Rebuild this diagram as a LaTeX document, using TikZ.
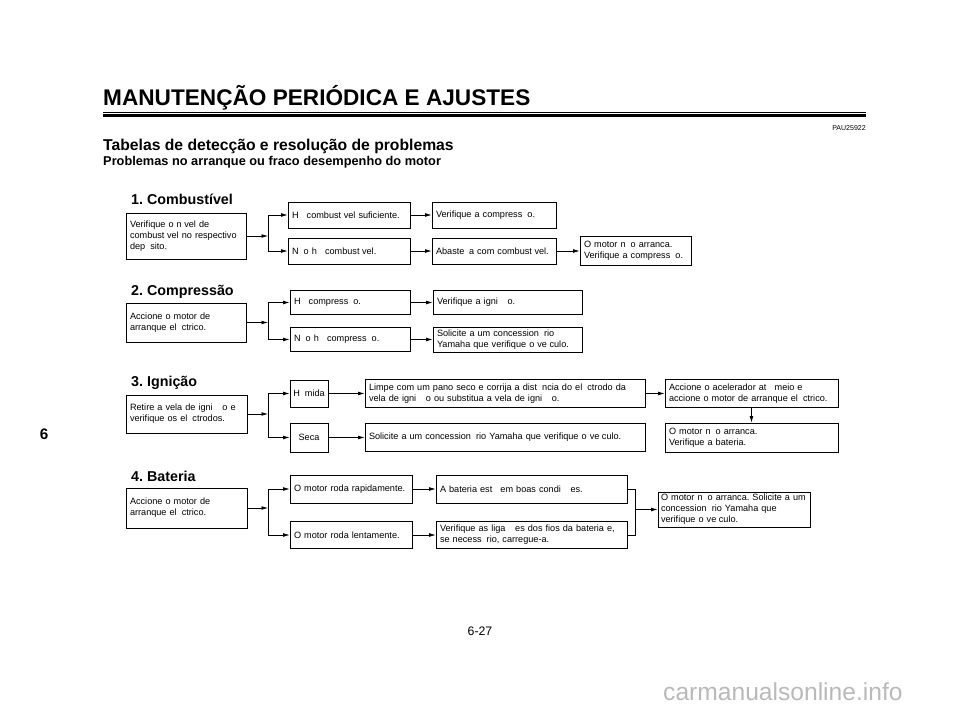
\documentclass[tikz,border=0pt]{standalone}
\usepackage{fontspec}
\setmainfont{Liberation Sans}
\usetikzlibrary{arrows.meta}
\frenchspacing

\newlength\pxu
\setlength\pxu{0.03cm}
% a glyph the page lost: keep its room, print nothing
\newcommand\nochar[1]{\hphantom{#1}}

\begin{document}
\begin{tikzpicture}[
  x=\pxu, y=-\pxu,
  font=\fontsize{7.8}{9.4}\selectfont,
  box/.style 2 args={draw, line width=0.6pt, align=left, inner xsep=4\pxu, inner ysep=1pt,
    text width=#1\pxu-8\pxu, minimum height=#2\pxu},
  tag/.style 2 args={draw, line width=0.6pt, inner sep=1pt, minimum width=#1\pxu, minimum height=#2\pxu},
  head/.style={anchor=base west, inner sep=0pt, font=\fontsize{12.2}{14}\selectfont\bfseries},
  arr/.style={-{Latex[length=5.5pt, width=3.2pt]}, line width=0.6pt},
  link/.style={line width=0.6pt}
]
\useasboundingbox (0,0) rectangle (960,712);

% page head
\node[anchor=base west, inner sep=0pt, font=\fontsize{19.3}{22}\selectfont\bfseries] (title) at (103,106) {MANUTENÇÃO PERIÓDICA E AJUSTES};
\draw[line width=0.6pt] (103,112) -- (866,112);
\draw[line width=2pt] (103,115.5) -- (866,115.5);
\node[anchor=base east, inner sep=0pt, font=\fontsize{6}{7}\selectfont] (code) at (866,131) {PAU25922};
\node[anchor=base west, inner sep=0pt, font=\fontsize{13.4}{16}\selectfont\bfseries] (tab) at (103,151) {Tabelas de detecção e resolução de problemas};
\node[anchor=base west, inner sep=0pt, font=\fontsize{10.9}{12}\selectfont\bfseries] (sub) at (103,166) {Problemas no arranque ou fraco desempenho do motor};
\node[anchor=base, inner sep=0pt, font=\fontsize{13}{15}\selectfont\bfseries] (chap) at (44,439) {6};

% 1. fuel
\node[head] (h1) at (131,205) {1. Combustível};
\node[box={120}{46}] (f0) at (186,236) {Verifique o n\nochar{í}vel de\\combust\nochar{í}vel no respectivo\\dep\nochar{ó}sito.};
\node[box={122}{26}] (f1) at (349,215) {H\nochar{á} combust\nochar{í}vel suficiente.};
\node[box={122}{26}] (f2) at (349,251) {N\nochar{ã}o h\nochar{á} combust\nochar{í}vel.};
\node[box={124}{26}] (f3) at (494,215) {Verifique a compress\nochar{ã}o.};
\node[box={124}{26}] (f4) at (494,251) {Abaste\nochar{ç}a com combust\nochar{í}vel.};
\node[box={111}{29}] (f5) at (635.5,251) {O motor n\nochar{ã}o arranca.\\Verifique a compress\nochar{ã}o.};
\coordinate (j1) at (268,236);
\draw[arr] (f0) -- (j1);
\draw[arr] (j1) |- (f1);
\draw[arr] (j1) |- (f2);
\draw[arr] (f1) -- (f3);
\draw[arr] (f2) -- (f4);
\draw[arr] (f4) -- (f5);

% 2. compression
\node[head] (h2) at (131,295) {2. Compressão};
\node[box={120}{39}] (p0) at (186,322.5) {Accione o motor de\\arranque el\nochar{é}ctrico.};
\node[box={120}{24}] (p1) at (350,302.5) {H\nochar{á} compress\nochar{ã}o.};
\node[box={120}{24}] (p2) at (350,339.5) {N\nochar{ã}o h\nochar{á} compress\nochar{ã}o.};
\node[box={149}{24}] (p3) at (507.5,302.5) {Verifique a igni\nochar{çã}o.};
\node[box={149}{25}] (p4) at (507.5,339.5) {Solicite a um concession\nochar{á}rio\\Yamaha que verifique o ve\nochar{í}culo.};
\coordinate (j2) at (268,322.5);
\draw[arr] (p0) -- (j2);
\draw[arr] (j2) |- (p1);
\draw[arr] (j2) |- (p2);
\draw[arr] (p1) -- (p3);
\draw[arr] (p2) -- (p4);

% 3. ignition
\node[head] (h3) at (131,386) {3. Ignição};
\node[box={121}{38}] (i0) at (186.5,414) {Retire a vela de igni\nochar{çã}o e\\verifique os el\nochar{é}ctrodos.};
\node[tag={38}{27}] (i1) at (309,393.5) {H\nochar{ú}mida};
\node[tag={38}{29}] (i2) at (309,437.5) {Seca};
\node[box={280}{28}] (i3) at (505,393.5) {Limpe com um pano seco e corrija a dist\nochar{â}ncia do el\nochar{é}ctrodo da\\vela de igni\nochar{çã}o ou substitua a vela de igni\nochar{çã}o.};
\node[box={280}{28}] (i4) at (505,437.5) {Solicite a um concession\nochar{á}rio Yamaha que verifique o ve\nochar{í}culo.};
\node[box={173}{28}] (i5) at (751.5,393.5) {Accione o acelerador at\nochar{é} meio e\\accione o motor de arranque el\nochar{é}ctrico.};
\node[box={173}{29}] (i6) at (751.5,437.5) {O motor n\nochar{ã}o arranca.\\Verifique a bateria.};
\coordinate (j3) at (268,414);
\draw[arr] (i0) -- (j3);
\draw[arr] (j3) |- (i1);
\draw[arr] (j3) |- (i2);
\draw[arr] (i1) -- (i3);
\draw[arr] (i2) -- (i4);
\draw[arr] (i3) -- (i5);
\draw[arr] (i5) -- (i6);

% 4. battery
\node[head] (h4) at (131,481) {4. Bateria};
\node[box={121}{40}] (b0) at (186.5,508) {Accione o motor de\\arranque el\nochar{é}ctrico.};
\node[box={122}{28}] (b1) at (351,489) {O motor roda rapidamente.};
\node[box={122}{27}] (b2) at (351,535) {O motor roda lentamente.};
\node[box={191}{28}] (b3) at (531.5,489) {A bateria est\nochar{á} em boas condi\nochar{çõ}es.};
\node[box={191}{27}] (b4) at (531.5,535) {Verifique as liga\nochar{çõ}es dos fios da bateria e,\\se necess\nochar{á}rio, carregue-a.};
\node[box={152}{35}, inner xsep=3\pxu, text width=146\pxu] (b5) at (734,509.5) {O motor n\nochar{ã}o arranca. Solicite a um\\concession\nochar{á}rio Yamaha que\\verifique o ve\nochar{í}culo.};
\coordinate (j4) at (268,508);
\coordinate (m4) at (635,509.5);
\draw[arr] (b0) -- (j4);
\draw[arr] (j4) |- (b1);
\draw[arr] (j4) |- (b2);
\draw[arr] (b1) -- (b3);
\draw[arr] (b2) -- (b4);
\draw[link] (b3) -| (m4);
\draw[link] (b4) -| (m4);
\draw[arr] (m4) -- (b5);

% page foot
\node[anchor=base, inner sep=0pt, font=\fontsize{10.5}{12}\selectfont] (page) at (480,635) {6-27};
\node[anchor=base west, inner sep=0pt, text=gray!55, font=\fontsize{21}{24}\selectfont] (mark) at (663,700) {carmanualsonline.info};
\end{tikzpicture}
\end{document}
